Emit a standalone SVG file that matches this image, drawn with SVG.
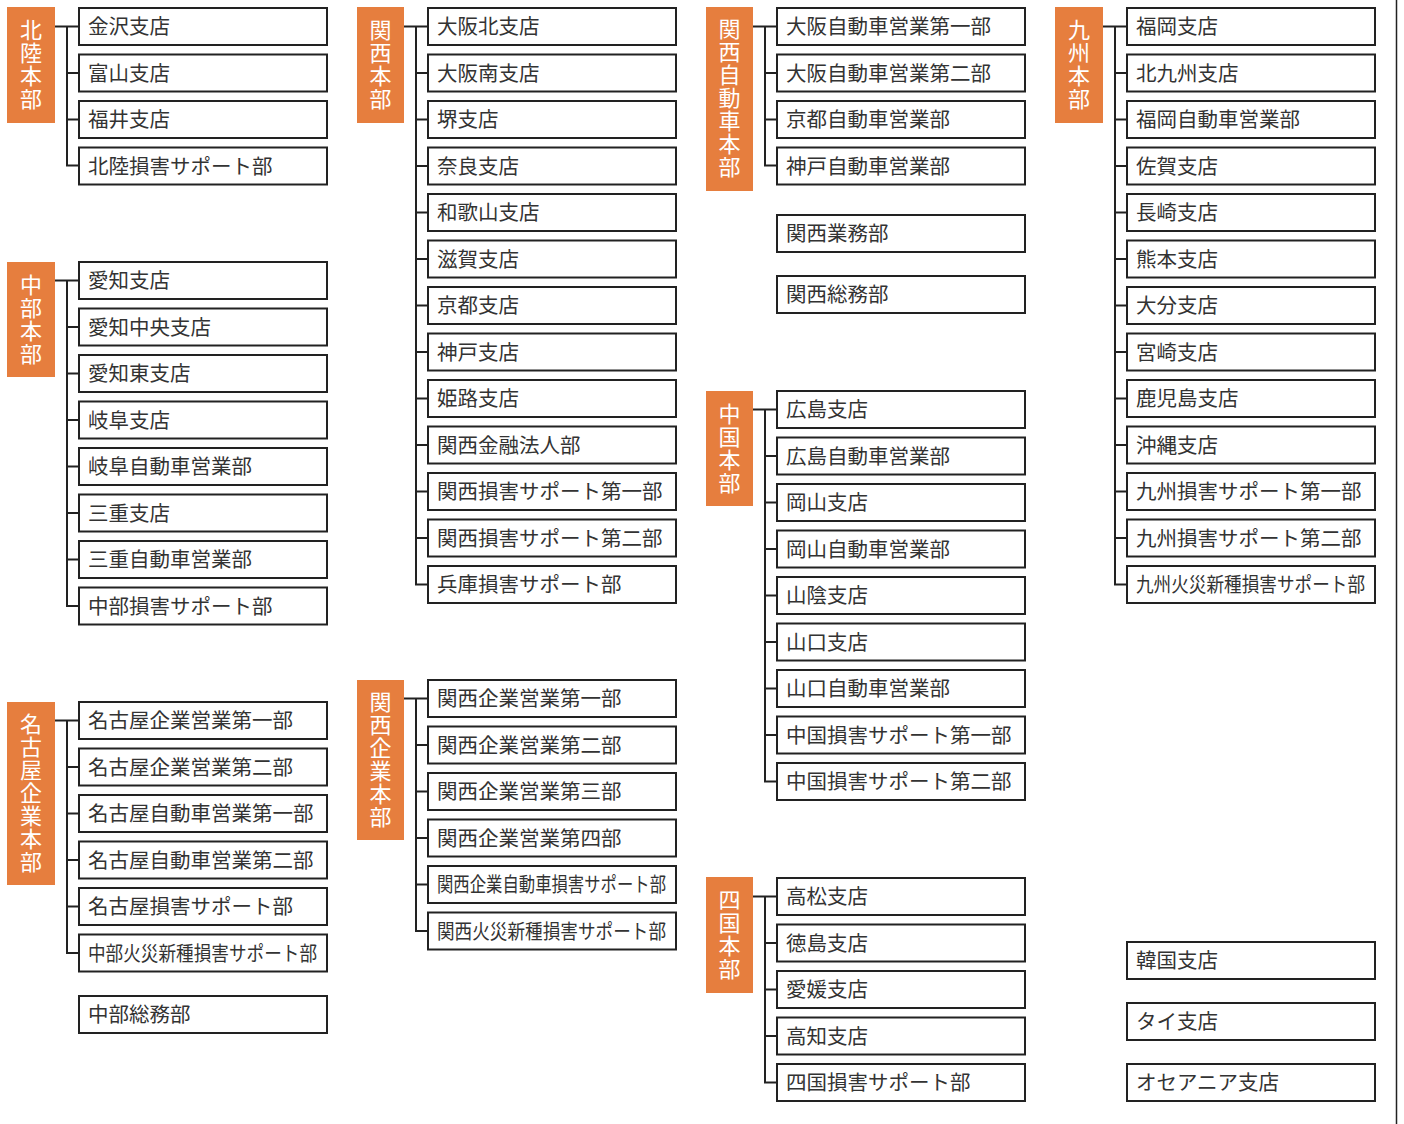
<svg xmlns="http://www.w3.org/2000/svg" width="1404" height="1124" viewBox="0 0 1404 1124">
<style>
.hq{fill:#E67E3E}
.hqt{fill:#fff;font-family:"Noto Sans CJK JP","Noto Sans",sans-serif;font-size:22px;writing-mode:vertical-rl;letter-spacing:1px}
.b{fill:#fff;stroke:#222;stroke-width:2}
.t{fill:#333;font-family:"Noto Sans CJK JP","Noto Sans",sans-serif;font-size:20.5px}
.c{fill:none;stroke:#222;stroke-width:2}
</style>
<rect width="1404" height="1124" fill="#fff"/>
<line x1="1396.5" y1="0" x2="1396.5" y2="1124" stroke="#222" stroke-width="1.5"/>

<g id="connectors">
<path class="c" d="M55 26.5H79M67 26.5V165.5H79M67 73H79M67 119.5H79"/>
<path class="c" d="M55 280.5H79M67 280.5V606H79M67 327H79M67 373.5H79M67 420H79M67 466.5H79M67 513H79M67 559.5H79"/>
<path class="c" d="M55 720.5H79M67 720.5V953H79M67 767H79M67 813.5H79M67 860H79M67 906.5H79"/>
<path class="c" d="M404 26.5H428M416 26.5V584.5H428M416 73H428M416 119.5H428M416 166H428M416 212.5H428M416 259H428M416 305.5H428M416 352H428M416 398.5H428M416 445H428M416 491.5H428M416 538H428"/>
<path class="c" d="M404 698.5H428M416 698.5V931H428M416 745H428M416 791.5H428M416 838H428M416 884.5H428"/>
<path class="c" d="M753 26.5H777M765 26.5V165.5H777M765 73H777M765 119.5H777"/>
<path class="c" d="M753 409.5H777M765 409.5V781.5H777M765 456H777M765 502.5H777M765 549H777M765 595.5H777M765 642H777M765 688.5H777M765 735H777"/>
<path class="c" d="M753 896.5H777M765 896.5V1082.5H777M765 943H777M765 989.5H777M765 1036H777"/>
<path class="c" d="M1103 26.5H1127M1115 26.5V584.5H1127M1115 73H1127M1115 119.5H1127M1115 166H1127M1115 212.5H1127M1115 259H1127M1115 305.5H1127M1115 352H1127M1115 398.5H1127M1115 445H1127M1115 491.5H1127M1115 538H1127"/>
</g>

<!-- Headquarters -->
<g id="hq-hokuriku"><rect class="hq" x="7" y="7" width="48" height="116"/><text class="hqt" x="31" y="19">北陸本部</text></g>
<g id="hq-chubu"><rect class="hq" x="7" y="262" width="48" height="115"/><text class="hqt" x="31" y="274">中部本部</text></g>
<g id="hq-nagoya"><rect class="hq" x="7" y="702" width="48" height="183"/><text class="hqt" x="31" y="713">名古屋企業本部</text></g>
<g id="hq-kansai"><rect class="hq" x="357" y="7" width="47" height="116"/><text class="hqt" x="380.5" y="19">関西本部</text></g>
<g id="hq-kansai-kigyo"><rect class="hq" x="357" y="680" width="47" height="160"/><text class="hqt" x="380.5" y="691">関西企業本部</text></g>
<g id="hq-kansai-auto"><rect class="hq" x="706" y="7" width="47" height="184"/><text class="hqt" x="729.5" y="18">関西自動車本部</text></g>
<g id="hq-chugoku"><rect class="hq" x="706" y="391" width="47" height="115"/><text class="hqt" x="729.5" y="403">中国本部</text></g>
<g id="hq-shikoku"><rect class="hq" x="706" y="877" width="47" height="116"/><text class="hqt" x="729.5" y="889">四国本部</text></g>
<g id="hq-kyushu"><rect class="hq" x="1055" y="7" width="48" height="116"/><text class="hqt" x="1079" y="19">九州本部</text></g>

<!-- Column 1 -->
<g id="n-kanazawa"><rect class="b" x="79" y="8" width="248" height="37"/><text class="t" x="88" y="34">金沢支店</text></g>
<g id="n-toyama"><rect class="b" x="79" y="54.5" width="248" height="37"/><text class="t" x="88" y="80.5">富山支店</text></g>
<g id="n-fukui"><rect class="b" x="79" y="101" width="248" height="37"/><text class="t" x="88" y="127">福井支店</text></g>
<g id="n-hokuriku-son"><rect class="b" x="79" y="147.5" width="248" height="37"/><text class="t" x="88" y="173.5">北陸損害サポート部</text></g>

<g id="n-aichi"><rect class="b" x="79" y="262" width="248" height="37"/><text class="t" x="88" y="288">愛知支店</text></g>
<g id="n-aichi-chuo"><rect class="b" x="79" y="308.5" width="248" height="37"/><text class="t" x="88" y="334.5">愛知中央支店</text></g>
<g id="n-aichi-higashi"><rect class="b" x="79" y="355" width="248" height="37"/><text class="t" x="88" y="381">愛知東支店</text></g>
<g id="n-gifu"><rect class="b" x="79" y="401.5" width="248" height="37"/><text class="t" x="88" y="427.5">岐阜支店</text></g>
<g id="n-gifu-auto"><rect class="b" x="79" y="448" width="248" height="37"/><text class="t" x="88" y="474">岐阜自動車営業部</text></g>
<g id="n-mie"><rect class="b" x="79" y="494.5" width="248" height="37"/><text class="t" x="88" y="520.5">三重支店</text></g>
<g id="n-mie-auto"><rect class="b" x="79" y="541" width="248" height="37"/><text class="t" x="88" y="567">三重自動車営業部</text></g>
<g id="n-chubu-son"><rect class="b" x="79" y="587.5" width="248" height="37"/><text class="t" x="88" y="613.5">中部損害サポート部</text></g>

<g id="n-nagoya-kigyo1"><rect class="b" x="79" y="702" width="248" height="37"/><text class="t" x="88" y="728">名古屋企業営業第一部</text></g>
<g id="n-nagoya-kigyo2"><rect class="b" x="79" y="748.5" width="248" height="37"/><text class="t" x="88" y="774.5">名古屋企業営業第二部</text></g>
<g id="n-nagoya-auto1"><rect class="b" x="79" y="795" width="248" height="37"/><text class="t" x="88" y="821">名古屋自動車営業第一部</text></g>
<g id="n-nagoya-auto2"><rect class="b" x="79" y="841.5" width="248" height="37"/><text class="t" x="88" y="867.5">名古屋自動車営業第二部</text></g>
<g id="n-nagoya-son"><rect class="b" x="79" y="888" width="248" height="37"/><text class="t" x="88" y="914">名古屋損害サポート部</text></g>
<g id="n-chubu-kasai"><rect class="b" x="79" y="934.5" width="248" height="37"/><text class="t" x="88" y="960.5" textLength="229" lengthAdjust="spacingAndGlyphs">中部火災新種損害サポート部</text></g>
<g id="n-chubu-somu"><rect class="b" x="79" y="996" width="248" height="37"/><text class="t" x="88" y="1022">中部総務部</text></g>

<!-- Column 2 -->
<g id="n-osaka-kita"><rect class="b" x="428" y="8" width="248" height="37"/><text class="t" x="437" y="34">大阪北支店</text></g>
<g id="n-osaka-minami"><rect class="b" x="428" y="54.5" width="248" height="37"/><text class="t" x="437" y="80.5">大阪南支店</text></g>
<g id="n-sakai"><rect class="b" x="428" y="101" width="248" height="37"/><text class="t" x="437" y="127">堺支店</text></g>
<g id="n-nara"><rect class="b" x="428" y="147.5" width="248" height="37"/><text class="t" x="437" y="173.5">奈良支店</text></g>
<g id="n-wakayama"><rect class="b" x="428" y="194" width="248" height="37"/><text class="t" x="437" y="220">和歌山支店</text></g>
<g id="n-shiga"><rect class="b" x="428" y="240.5" width="248" height="37"/><text class="t" x="437" y="266.5">滋賀支店</text></g>
<g id="n-kyoto"><rect class="b" x="428" y="287" width="248" height="37"/><text class="t" x="437" y="313">京都支店</text></g>
<g id="n-kobe"><rect class="b" x="428" y="333.5" width="248" height="37"/><text class="t" x="437" y="359.5">神戸支店</text></g>
<g id="n-himeji"><rect class="b" x="428" y="380" width="248" height="37"/><text class="t" x="437" y="406">姫路支店</text></g>
<g id="n-kansai-kinyu"><rect class="b" x="428" y="426.5" width="248" height="37"/><text class="t" x="437" y="452.5">関西金融法人部</text></g>
<g id="n-kansai-son1"><rect class="b" x="428" y="473" width="248" height="37"/><text class="t" x="437" y="499">関西損害サポート第一部</text></g>
<g id="n-kansai-son2"><rect class="b" x="428" y="519.5" width="248" height="37"/><text class="t" x="437" y="545.5">関西損害サポート第二部</text></g>
<g id="n-hyogo-son"><rect class="b" x="428" y="566" width="248" height="37"/><text class="t" x="437" y="592">兵庫損害サポート部</text></g>

<g id="n-kansai-kigyo1"><rect class="b" x="428" y="680" width="248" height="37"/><text class="t" x="437" y="706">関西企業営業第一部</text></g>
<g id="n-kansai-kigyo2"><rect class="b" x="428" y="726.5" width="248" height="37"/><text class="t" x="437" y="752.5">関西企業営業第二部</text></g>
<g id="n-kansai-kigyo3"><rect class="b" x="428" y="773" width="248" height="37"/><text class="t" x="437" y="799">関西企業営業第三部</text></g>
<g id="n-kansai-kigyo4"><rect class="b" x="428" y="819.5" width="248" height="37"/><text class="t" x="437" y="845.5">関西企業営業第四部</text></g>
<g id="n-kansai-kigyo-auto"><rect class="b" x="428" y="866" width="248" height="37"/><text class="t" x="437" y="892" textLength="229" lengthAdjust="spacingAndGlyphs">関西企業自動車損害サポート部</text></g>
<g id="n-kansai-kasai"><rect class="b" x="428" y="912.5" width="248" height="37"/><text class="t" x="437" y="938.5" textLength="229" lengthAdjust="spacingAndGlyphs">関西火災新種損害サポート部</text></g>

<!-- Column 3 -->
<g id="n-osaka-auto1"><rect class="b" x="777" y="8" width="248" height="37"/><text class="t" x="786" y="34">大阪自動車営業第一部</text></g>
<g id="n-osaka-auto2"><rect class="b" x="777" y="54.5" width="248" height="37"/><text class="t" x="786" y="80.5">大阪自動車営業第二部</text></g>
<g id="n-kyoto-auto"><rect class="b" x="777" y="101" width="248" height="37"/><text class="t" x="786" y="127">京都自動車営業部</text></g>
<g id="n-kobe-auto"><rect class="b" x="777" y="147.5" width="248" height="37"/><text class="t" x="786" y="173.5">神戸自動車営業部</text></g>
<g id="n-kansai-gyomu"><rect class="b" x="777" y="215" width="248" height="37"/><text class="t" x="786" y="241">関西業務部</text></g>
<g id="n-kansai-somu"><rect class="b" x="777" y="276" width="248" height="37"/><text class="t" x="786" y="302">関西総務部</text></g>

<g id="n-hiroshima"><rect class="b" x="777" y="391" width="248" height="37"/><text class="t" x="786" y="417">広島支店</text></g>
<g id="n-hiroshima-auto"><rect class="b" x="777" y="437.5" width="248" height="37"/><text class="t" x="786" y="463.5">広島自動車営業部</text></g>
<g id="n-okayama"><rect class="b" x="777" y="484" width="248" height="37"/><text class="t" x="786" y="510">岡山支店</text></g>
<g id="n-okayama-auto"><rect class="b" x="777" y="530.5" width="248" height="37"/><text class="t" x="786" y="556.5">岡山自動車営業部</text></g>
<g id="n-sanin"><rect class="b" x="777" y="577" width="248" height="37"/><text class="t" x="786" y="603">山陰支店</text></g>
<g id="n-yamaguchi"><rect class="b" x="777" y="623.5" width="248" height="37"/><text class="t" x="786" y="649.5">山口支店</text></g>
<g id="n-yamaguchi-auto"><rect class="b" x="777" y="670" width="248" height="37"/><text class="t" x="786" y="696">山口自動車営業部</text></g>
<g id="n-chugoku-son1"><rect class="b" x="777" y="716.5" width="248" height="37"/><text class="t" x="786" y="742.5">中国損害サポート第一部</text></g>
<g id="n-chugoku-son2"><rect class="b" x="777" y="763" width="248" height="37"/><text class="t" x="786" y="789">中国損害サポート第二部</text></g>

<g id="n-takamatsu"><rect class="b" x="777" y="878" width="248" height="37"/><text class="t" x="786" y="904">高松支店</text></g>
<g id="n-tokushima"><rect class="b" x="777" y="924.5" width="248" height="37"/><text class="t" x="786" y="950.5">徳島支店</text></g>
<g id="n-ehime"><rect class="b" x="777" y="971" width="248" height="37"/><text class="t" x="786" y="997">愛媛支店</text></g>
<g id="n-kochi"><rect class="b" x="777" y="1017.5" width="248" height="37"/><text class="t" x="786" y="1043.5">高知支店</text></g>
<g id="n-shikoku-son"><rect class="b" x="777" y="1064" width="248" height="37"/><text class="t" x="786" y="1090">四国損害サポート部</text></g>

<!-- Column 4 -->
<g id="n-fukuoka"><rect class="b" x="1127" y="8" width="248" height="37"/><text class="t" x="1136" y="34">福岡支店</text></g>
<g id="n-kitakyushu"><rect class="b" x="1127" y="54.5" width="248" height="37"/><text class="t" x="1136" y="80.5">北九州支店</text></g>
<g id="n-fukuoka-auto"><rect class="b" x="1127" y="101" width="248" height="37"/><text class="t" x="1136" y="127">福岡自動車営業部</text></g>
<g id="n-saga"><rect class="b" x="1127" y="147.5" width="248" height="37"/><text class="t" x="1136" y="173.5">佐賀支店</text></g>
<g id="n-nagasaki"><rect class="b" x="1127" y="194" width="248" height="37"/><text class="t" x="1136" y="220">長崎支店</text></g>
<g id="n-kumamoto"><rect class="b" x="1127" y="240.5" width="248" height="37"/><text class="t" x="1136" y="266.5">熊本支店</text></g>
<g id="n-oita"><rect class="b" x="1127" y="287" width="248" height="37"/><text class="t" x="1136" y="313">大分支店</text></g>
<g id="n-miyazaki"><rect class="b" x="1127" y="333.5" width="248" height="37"/><text class="t" x="1136" y="359.5">宮崎支店</text></g>
<g id="n-kagoshima"><rect class="b" x="1127" y="380" width="248" height="37"/><text class="t" x="1136" y="406">鹿児島支店</text></g>
<g id="n-okinawa"><rect class="b" x="1127" y="426.5" width="248" height="37"/><text class="t" x="1136" y="452.5">沖縄支店</text></g>
<g id="n-kyushu-son1"><rect class="b" x="1127" y="473" width="248" height="37"/><text class="t" x="1136" y="499">九州損害サポート第一部</text></g>
<g id="n-kyushu-son2"><rect class="b" x="1127" y="519.5" width="248" height="37"/><text class="t" x="1136" y="545.5">九州損害サポート第二部</text></g>
<g id="n-kyushu-kasai"><rect class="b" x="1127" y="566" width="248" height="37"/><text class="t" x="1136" y="592" textLength="229" lengthAdjust="spacingAndGlyphs">九州火災新種損害サポート部</text></g>

<g id="n-korea"><rect class="b" x="1127" y="942" width="248" height="37"/><text class="t" x="1136" y="968">韓国支店</text></g>
<g id="n-thai"><rect class="b" x="1127" y="1003" width="248" height="37"/><text class="t" x="1136" y="1029">タイ支店</text></g>
<g id="n-oceania"><rect class="b" x="1127" y="1064" width="248" height="37"/><text class="t" x="1136" y="1090">オセアニア支店</text></g>
</svg>
